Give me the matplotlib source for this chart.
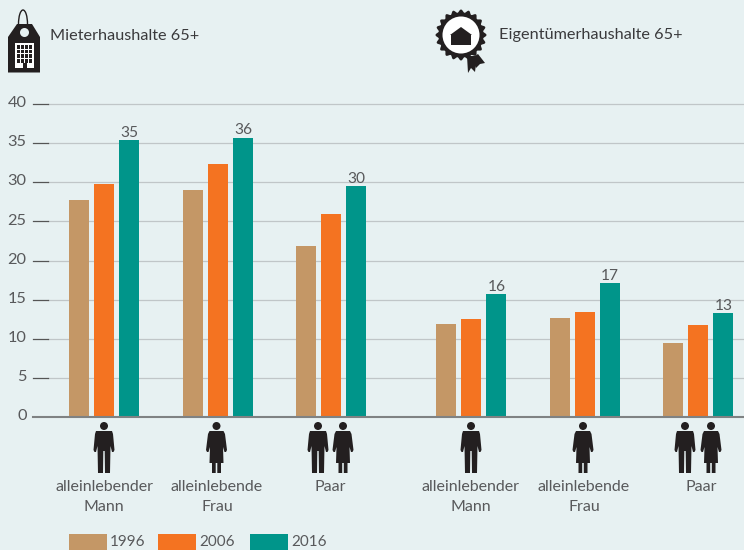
import matplotlib
matplotlib.use("Agg")
import matplotlib.pyplot as plt
from matplotlib.patches import Polygon, Circle, Rectangle, Ellipse
import numpy as np

W, H = 744, 550
BG = "#E7F1F2"
INK = "#231F20"
TXT = "#58595B"
plt.rcParams['font.family'] = ['Lato', 'DejaVu Sans']

years = ["1996", "2006", "2016"]
colors = ["#C49766", "#F47321", "#00958A"]
groups = ["alleinlebender\nMann", "alleinlebende\nFrau", "Paar",
          "alleinlebender\nMann", "alleinlebende\nFrau", "Paar"]
v1996 = [27.7, 29.0, 21.9, 11.9, 12.6, 9.4]
v2006 = [29.8, 32.3, 25.9, 12.5, 13.4, 11.7]
v2016 = [35.4, 35.7, 29.5, 15.7, 17.1, 13.3]
labels2016 = ["35", "36", "30", "16", "17", "13"]
yticks = [0, 5, 10, 15, 20, 25, 30, 35, 40]

fig = plt.figure(figsize=(W/100, H/100), dpi=100, facecolor=BG)
ax = fig.add_axes([33/W, 1-417/H, (W-33)/W, (417-104)/H], facecolor="none")
ax.set_xlim(33, 744)
ax.set_ylim(0, 40)
centers = [104, 217.5, 331, 471, 584.5, 698]
offs = [-25, 0, 25]
for val, c, o in zip([v1996, v2006, v2016], colors, offs):
    ax.bar([x+o for x in centers], val, width=20, color=c, zorder=3)
for x, v, l in zip(centers, v2016, labels2016):
    ax.text(x+offs[2]+0.5, v+0.05, l, ha="center", va="bottom", fontsize=11.2, color=TXT, zorder=4)
for s in ax.spines.values():
    s.set_visible(False)
ax.set_xticks([])
ax.set_yticks(yticks)
ax.tick_params(axis="y", length=0, labelleft=False)
for t in yticks:
    if t == 0:
        ax.plot([33, 744], [0, 0], color="#7F8283", lw=1.5, zorder=5, clip_on=False)
    else:
        ax.plot([48, 744], [t, t], color="#C0C6C8", lw=0.9, zorder=1, clip_on=False)
        ax.plot([33, 48], [t, t], color="#555555", lw=0.9, zorder=2, clip_on=False)
    ax.text(26.5, t+0.1, str(t), ha="right", va="center", fontsize=11.8, color=TXT)

ov = fig.add_axes([0, 0, 1, 1], facecolor="none")
ov.set_xlim(0, W); ov.set_ylim(H, 0); ov.axis("off")

def man(cx, y=422):
    ov.add_patch(Circle((cx, y+4), 4, color=INK, lw=0))
    ov.add_patch(Polygon([(cx-8, y+9), (cx+8, y+9), (cx+9, y+12), (cx+10.5, y+28), (cx+9.5, y+30),
                          (cx+8, y+30), (cx+6.5, y+24), (cx+6, y+51), (cx+1, y+51), (cx+0.7, y+29),
                          (cx-0.7, y+29), (cx-1, y+51), (cx-6, y+51), (cx-6.5, y+24), (cx-8, y+30),
                          (cx-9.5, y+30), (cx-10.5, y+28), (cx-9, y+12)], color=INK, lw=0))

def woman(cx, y=422):
    ov.add_patch(Circle((cx, y+4), 4, color=INK, lw=0))
    ov.add_patch(Polygon([(cx-7, y+9), (cx+7, y+9), (cx+8.5, y+12), (cx+10.5, y+28), (cx+9.5, y+30),
                          (cx+8, y+30), (cx+6.5, y+25), (cx+7, y+41), (cx+4.5, y+41), (cx+4.5, y+51),
                          (cx+0.8, y+51), (cx+0.8, y+41), (cx-0.8, y+41), (cx-0.8, y+51), (cx-4.5, y+51),
                          (cx-4.5, y+41), (cx-7, y+41), (cx-6.5, y+25), (cx-8, y+30), (cx-9.5, y+30),
                          (cx-10.5, y+28), (cx-8.5, y+12)], color=INK, lw=0))

man(104); woman(216.5); man(318); woman(343)
man(471); woman(583); man(685); woman(711)

for x, g in zip([104, 217, 330, 471, 584, 701], groups):
    ov.text(x, 480, g, ha="center", va="top", fontsize=11.5, color=TXT, linespacing=1.55)

for x, c, y_ in zip([69, 158, 250], colors, years):
    ov.add_patch(Rectangle((x, 534), 38, 16, color=c, lw=0))
    ov.text(x+41, 541.5, y_, ha="left", va="center", fontsize=11, color=TXT)

ov.text(50, 35.5, "Mieterhaushalte 65+", ha="left", va="center", fontsize=11.7, color="#3A3A3C")
ov.text(499, 35.5, "Eigentümerhaushalte 65+", ha="left", va="center", fontsize=11.7, color="#3A3A3C")

# price tag icon
ov.add_patch(Ellipse((23, 24), 9, 28, fill=False, ec=INK, lw=1.0, zorder=1))
ov.add_patch(Polygon([(17, 24), (32, 24), (40, 37), (40, 72.5), (8, 72.5), (8, 37)], color=INK, lw=0, zorder=2))
ov.add_patch(Circle((24.5, 32.5), 4.5, color=BG, lw=0, zorder=3))
ov.add_patch(Rectangle((15, 43), 19, 25, color="white", lw=0, zorder=3))
for i in range(4):
    for j in range(4):
        ov.add_patch(Rectangle((17+i*4.0, 45+j*4.7), 3, 3.6, color=INK, lw=0, zorder=4))
ov.add_patch(Rectangle((23, 63), 3.5, 5, color=INK, lw=0, zorder=4))

# rosette icon
cx, cy = 461, 35
ang = np.linspace(0, 2*np.pi, 361)
rr = 24 + 1.5*np.cos(20*ang)
ov.add_patch(Polygon([(478, 54), (485, 63), (480, 64), (476, 68), (472, 58)], color=INK, lw=0))
ov.add_patch(Polygon([(467, 56), (468, 73), (471, 68), (475, 72), (477, 56)], color=INK, lw=0))
ov.add_patch(Polygon(np.c_[cx+rr*np.cos(ang), cy+rr*np.sin(ang)], color=INK, lw=0))
ov.add_patch(Circle((cx, cy), 18.5, color="white", lw=0))
ov.add_patch(Polygon([(cx, cy-8), (cx+11, cy), (cx+10, cy), (cx+10, cy+10), (cx-10, cy+10), (cx-10, cy), (cx-11, cy)], color=INK, lw=0))

fig.savefig("out.png", dpi=100, facecolor=BG)
